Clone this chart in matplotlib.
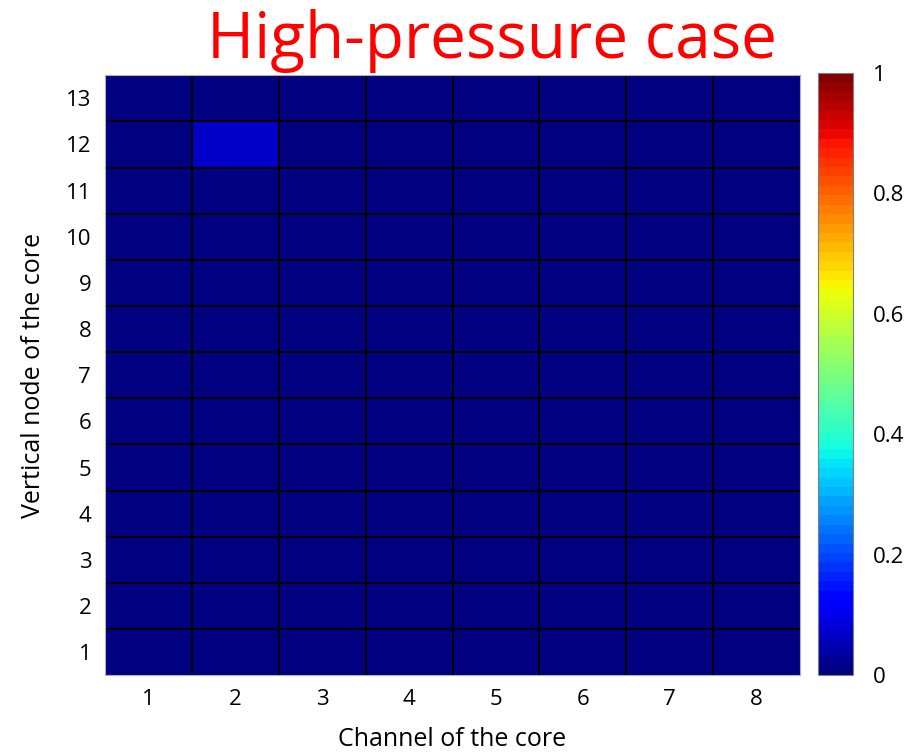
import numpy as np
import matplotlib.pyplot as plt

plt.rcParams['font.family'] = ['Open Sans', 'DejaVu Sans']

channels = [1, 2, 3, 4, 5, 6, 7, 8]
nodes = [1, 2, 3, 4, 5, 6, 7, 8, 9, 10, 11, 12, 13]
# rows = vertical node 1..13, columns = channel 1..8
values = np.zeros((13, 8))
values[11, 1] = 0.07

fig = plt.figure(figsize=(9.06, 7.52), dpi=100)
ax = fig.add_axes([0.116, 0.102, 0.767, 0.798])
cax = fig.add_axes([0.903, 0.102, 0.0386, 0.801])

cmap = plt.get_cmap('jet', 64)
x_edges = np.arange(len(channels) + 1) + 0.5
y_edges = np.arange(len(nodes) + 1) + 0.5
mesh = ax.pcolormesh(x_edges, y_edges, values, cmap=cmap, vmin=0, vmax=1)
# cell borders
ax.vlines(x_edges[1:-1], 0.5, 13.5, colors='black', linewidth=1.2, antialiased=False)
ax.hlines(y_edges[1:-1], 0.5, 8.5, colors='black', linewidth=1.2, antialiased=False)
ax.set_xlim(0.5, 8.5)
ax.set_ylim(0.5, 13.5)
ax.set_xticks(channels)
ax.set_yticks(nodes)
ax.tick_params(length=0, labelsize=16, pad=10)
for s in ax.spines.values():
    s.set_color('#b0b0b0')
    s.set_linewidth(0.8)
ax.set_xlabel('Channel of the core', fontsize=18, labelpad=12)
ax.set_ylabel('Vertical node of the core', fontsize=18, labelpad=14)

cb = fig.colorbar(mesh, cax=cax, ticks=[0, 0.2, 0.4, 0.6, 0.8, 1])
cb.ax.set_yticklabels(['0', '0.2', '0.4', '0.6', '0.8', '1'])
cb.ax.tick_params(length=0, labelsize=16, pad=14)
cb.outline.set_edgecolor('#808080')

fig.text(0.543, 0.945, 'High-pressure case', color='red', fontsize=46,
         ha='center', va='center')

fig.savefig('out.png', dpi=100)
